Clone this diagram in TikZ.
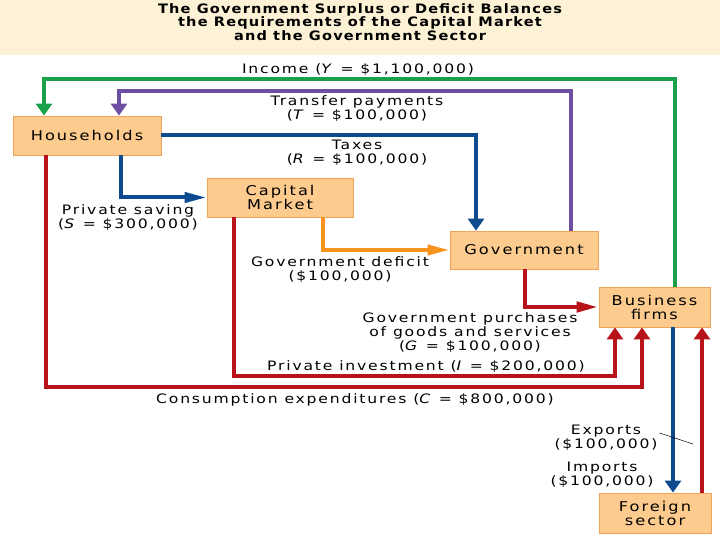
\documentclass[tikz,border=0pt]{standalone}
\usepackage{fontspec}
\setmainfont{DejaVu Sans}
\newfontfamily\lblfont[LetterSpace=14, FakeStretch=1.2]{DejaVu Sans}
\newfontfamily\boxfont[LetterSpace=15, FakeStretch=1.2]{DejaVu Sans}
\newfontfamily\titlefont[LetterSpace=9, FakeStretch=1.12]{DejaVu Sans}
\usetikzlibrary{arrows.meta}
\definecolor{boxfill}{HTML}{FCCB8D}
\definecolor{boxline}{HTML}{F0A35A}
\definecolor{titleband}{HTML}{FEF2D6}
\definecolor{incomec}{HTML}{1AA04A}
\definecolor{transc}{HTML}{6C4FA0}
\definecolor{taxc}{HTML}{0D4A8E}
\definecolor{spendc}{HTML}{B8121A}
\definecolor{deficitc}{HTML}{F7931E}

\begin{document}
\begin{tikzpicture}[x=1pt, y=-1pt, line width=4pt,
    vtip/.style = {-{Triangle[length=12pt, width=16pt]}},
    htip/.style = {-{Triangle[length=22pt, width=10pt]}},
    redline/.style = {spendc, line width=4.5pt},
    box/.style = {draw=boxline, line width=0.8pt, fill=boxfill, align=center,
      inner sep=0pt, font=\boxfont\fontsize{13.5}{14}\selectfont},
    lbl/.style = {align=center, inner sep=0pt, font=\lblfont\fontsize{13}{14}\selectfont}]
    \useasboundingbox (0,0) rectangle (720,540);
    \fill[titleband] (0,0) rectangle (720,55);
    % Title
    \node[align=center, inner sep=0pt, font=\titlefont\bfseries\fontsize{13}{13.5}\selectfont] (title) at (360,22)
      {The Government Surplus or Deficit Balances\\the Requirements of the Capital Market\\and the Government Sector};

    % Boxes
    \node[box, minimum width=148pt, minimum height=39pt] (hh) at (87,135.5) {Households};
    \node[box, minimum width=146pt, minimum height=39pt] (cm) at (280,197.5) {Capital\\Market};
    \node[box, minimum width=148pt, minimum height=38pt] (gov) at (524,250) {Government};
    \node[box, minimum width=111pt, minimum height=40pt] (bf) at (654.5,307) {Business\\firms};
    \node[box, minimum width=112pt, minimum height=40pt] (fs) at (655,513) {Foreign\\sector};

    % Flows
    \draw[vtip, incomec] (675,0 |- bf.north) |- (44,79) -- (44,0 |- hh.north);
    \draw[vtip, transc] (571,0 |- gov.north) |- (119,91) -- (119,0 |- hh.north);
    \draw[vtip, taxc] (hh.east) -| (476,0 |- gov.north);
    \draw[htip, taxc] (121,0 |- hh.south) |- (cm.west);
    \draw[htip, deficitc] (323,0 |- cm.south) |- (gov.west);
    \draw[htip, redline] (525,0 |- gov.south) |- (bf.west);
    \draw[vtip, redline] (234,0 |- cm.south) |- (615,376) -- (615,0 |- bf.south);
    \draw[vtip, redline] (46,0 |- hh.south) |- (642,387) -- (642,0 |- bf.south);
    \draw[vtip, taxc] (673,0 |- bf.south) -- (673,0 |- fs.north);
    \draw[vtip, redline] (702,0 |- fs.north) -- (702,0 |- bf.south);

    % Labels
    \node[lbl] (inc) at (358,70) {Income (\textit{Y} = \$1,100,000)};
    \node[lbl] (tp) at (357,108.5) {Transfer payments\\(\textit{T} = \$100,000)};
    \node[lbl] (tx) at (357,153) {Taxes\\(\textit{R} = \$100,000)};
    \node[lbl] (ps) at (128,218) {Private saving\\(\textit{S} = \$300,000)};
    \node[lbl] (gd) at (340,270) {Government deficit\\(\$100,000)};
    \node[lbl] (gp) at (470,333) {Government purchases\\of goods and services\\(\textit{G} = \$100,000)};
    \node[lbl] (pi) at (426,367) {Private investment (\textit{I} = \$200,000)};
    \node[lbl] (ce) at (355,400) {Consumption expenditures (\textit{C} = \$800,000)};
    \node[lbl] (ex) at (606,438) {Exports\\(\$100,000)};
    \node[lbl] (im) at (602,475) {Imports\\(\$100,000)};
    \coordinate (lead) at (693,444);
    \draw[line width=0.5pt] ([yshift=5pt]ex.east) -- (lead);
\end{tikzpicture}
\end{document}
